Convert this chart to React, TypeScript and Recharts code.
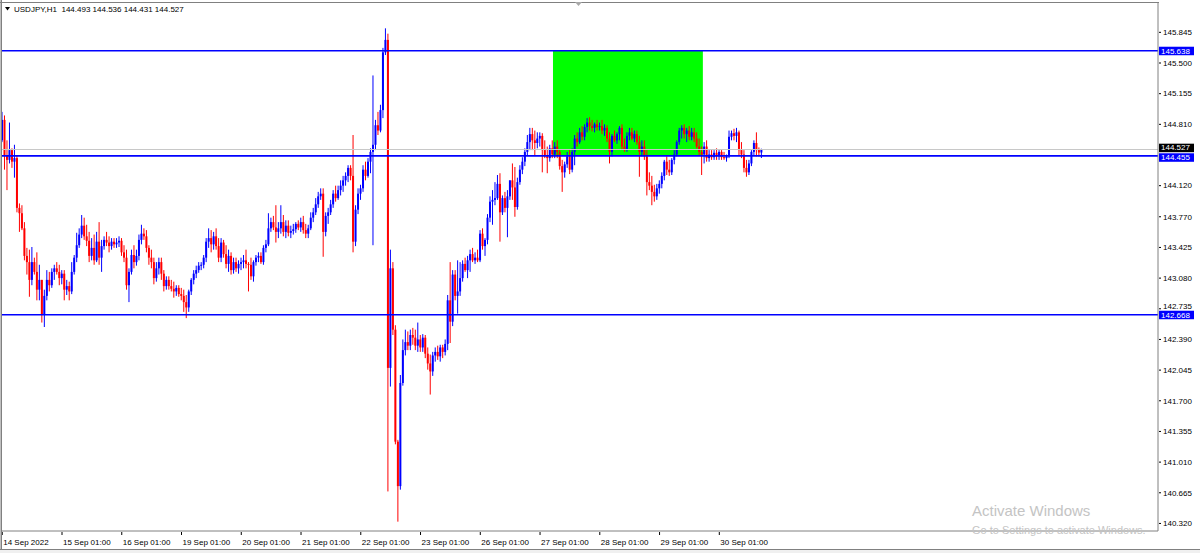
import React from 'react';
import { ComposedChart, Bar, XAxis, YAxis, ReferenceLine, ReferenceArea } from 'recharts';

const SYMBOL = 'USDJPY,H1';
const FIRST_OPEN = 144.63;

// Hourly closes, 14 Sep 2022 .. 30 Sep 2022 (24 bars per line)
const CLOSE: number[] = [
  144.86, 144.46, 144.41, 144.52, 144.39, 144.43, 143.87, 143.81, 143.64, 143.33, 143.26, 143.06, 143.26, 143.15, 142.95, 143.06, 142.67, 142.88, 143.06, 143.00, 143.15, 143.19, 143.15, 143.08,
  143.13, 142.95, 142.99, 142.93, 143.15, 143.31, 143.45, 143.57, 143.67, 143.55, 143.50, 143.33, 143.42, 143.28, 143.49, 143.31, 143.44, 143.51, 143.48, 143.44, 143.49, 143.46, 143.48, 143.50,
  143.37, 143.31, 143.00, 143.15, 143.34, 143.26, 143.33, 143.51, 143.58, 143.55, 143.42, 143.31, 143.26, 143.08, 143.19, 143.26, 143.13, 142.99, 143.06, 142.99, 142.96, 142.93, 142.97, 142.90,
  142.88, 142.81, 142.75, 142.93, 143.06, 143.13, 143.17, 143.22, 143.23, 143.31, 143.49, 143.53, 143.46, 143.55, 143.44, 143.31, 143.48, 143.35, 143.24, 143.33, 143.17, 143.26, 143.19, 143.24,
  143.26, 143.28, 143.24, 143.23, 143.10, 143.26, 143.31, 143.33, 143.26, 143.42, 143.46, 143.64, 143.71, 143.65, 143.60, 143.64, 143.71, 143.60, 143.67, 143.59, 143.61, 143.63, 143.69, 143.65,
  143.71, 143.62, 143.58, 143.64, 143.76, 143.82, 143.91, 144.00, 144.03, 143.60, 143.78, 143.82, 143.91, 144.03, 143.98, 144.07, 144.12, 144.18, 144.23, 144.32, 144.23, 143.49, 143.85, 144.03,
  144.09, 144.30, 144.23, 144.39, 144.50, 144.58, 144.80, 144.74, 144.97, 145.62, 145.76, 142.07, 143.19, 142.50, 141.24, 140.74, 141.90, 142.27, 142.36, 142.32, 142.44, 142.41, 142.32, 142.39,
  142.30, 142.41, 142.23, 142.12, 142.03, 142.21, 142.25, 142.20, 142.30, 142.25, 142.34, 142.83, 142.59, 143.12, 142.88, 142.93, 143.08, 143.24, 143.17, 143.28, 143.35, 143.28, 143.31, 143.28,
  143.58, 143.44, 143.51, 143.76, 143.94, 143.96, 143.98, 144.14, 143.82, 143.98, 143.87, 144.00, 144.18, 144.10, 143.88, 144.16, 144.30, 144.39, 144.50, 144.61, 144.70, 144.63, 144.60, 144.65,
  144.68, 144.52, 144.45, 144.43, 144.54, 144.47, 144.56, 144.50, 144.34, 144.27, 144.36, 144.45, 144.30, 144.50, 144.65, 144.61, 144.72, 144.67, 144.78, 144.83, 144.79, 144.77, 144.81, 144.78,
  144.79, 144.74, 144.77, 144.65, 144.50, 144.68, 144.63, 144.70, 144.77, 144.56, 144.52, 144.68, 144.72, 144.65, 144.70, 144.61, 144.50, 144.56, 144.45, 144.16, 144.12, 144.05, 144.00, 144.09,
  144.14, 144.23, 144.39, 144.30, 144.27, 144.41, 144.47, 144.61, 144.74, 144.77, 144.70, 144.74, 144.67, 144.72, 144.65, 144.56, 144.50, 144.47, 144.56, 144.43, 144.47, 144.44, 144.49, 144.45,
  144.50, 144.44, 144.43, 144.45, 144.67, 144.71, 144.68, 144.72, 144.52, 144.47, 144.32, 144.27, 144.37, 144.50, 144.60, 144.52, 144.493, 144.527,
];

const HIGH: number[] = [
  144.95, 144.91, 144.63, 144.83, 144.54, 144.58, 144.46, 143.92, 143.90, 143.71, 143.42, 143.40, 143.43, 143.31, 143.37, 143.23, 143.06, 142.95, 143.17, 143.15, 143.19, 143.23, 143.26, 143.23,
  143.17, 143.17, 143.06, 143.04, 143.26, 143.34, 143.59, 143.64, 143.79, 143.76, 143.68, 143.60, 143.53, 143.57, 143.60, 143.71, 143.51, 143.55, 143.60, 143.55, 143.53, 143.53, 143.53, 143.55,
  143.53, 143.45, 143.40, 143.19, 143.40, 143.45, 143.40, 143.57, 143.68, 143.64, 143.62, 143.45, 143.40, 143.31, 143.26, 143.31, 143.31, 143.17, 143.10, 143.10, 143.06, 143.04, 143.00, 143.00,
  142.97, 142.95, 142.89, 142.95, 143.08, 143.17, 143.22, 143.26, 143.26, 143.34, 143.53, 143.64, 143.62, 143.60, 143.64, 143.53, 143.53, 143.51, 143.45, 143.40, 143.37, 143.31, 143.31, 143.28,
  143.31, 143.34, 143.40, 143.26, 143.31, 143.28, 143.34, 143.37, 143.37, 143.45, 143.51, 143.81, 143.76, 143.78, 143.90, 143.71, 143.90, 143.79, 143.73, 143.73, 143.67, 143.69, 143.71, 143.73,
  143.76, 143.78, 143.69, 143.68, 143.82, 143.87, 143.98, 144.05, 144.09, 144.09, 143.82, 143.87, 143.96, 144.07, 144.12, 144.12, 144.18, 144.23, 144.27, 144.35, 144.35, 144.69, 143.90, 144.09,
  144.13, 144.35, 144.39, 144.43, 144.54, 145.36, 144.86, 144.95, 145.03, 145.67, 145.89, 145.83, 143.40, 143.26, 142.55, 141.26, 141.99, 142.39, 142.50, 142.48, 142.50, 142.52, 142.50, 142.58,
  142.44, 142.45, 142.44, 142.30, 142.22, 142.25, 142.30, 142.32, 142.33, 142.33, 142.39, 142.89, 143.26, 143.17, 143.17, 143.28, 143.26, 143.28, 143.31, 143.33, 143.40, 143.42, 143.37, 143.40,
  143.62, 143.64, 143.53, 143.80, 144.00, 144.07, 144.16, 144.24, 144.26, 144.01, 144.05, 144.07, 144.18, 144.37, 144.33, 144.21, 144.35, 144.44, 144.54, 144.69, 144.77, 144.77, 144.74, 144.72,
  144.72, 144.71, 144.63, 144.56, 144.58, 144.63, 144.61, 144.63, 144.52, 144.41, 144.39, 144.50, 144.52, 144.54, 144.69, 144.72, 144.77, 144.79, 144.81, 144.88, 144.89, 144.86, 144.83, 144.86,
  144.83, 144.86, 144.81, 144.80, 144.72, 144.70, 144.74, 144.72, 144.79, 144.81, 144.65, 144.72, 144.77, 144.77, 144.74, 144.74, 144.68, 144.63, 144.63, 144.52, 144.27, 144.23, 144.13, 144.14,
  144.18, 144.27, 144.41, 144.45, 144.41, 144.43, 144.52, 144.63, 144.77, 144.80, 144.81, 144.77, 144.79, 144.77, 144.77, 144.72, 144.65, 144.56, 144.61, 144.63, 144.52, 144.52, 144.52, 144.54,
  144.52, 144.52, 144.50, 144.47, 144.74, 144.74, 144.76, 144.77, 144.74, 144.61, 144.52, 144.41, 144.41, 144.52, 144.63, 144.72, 144.55, 144.536,
];

const LOW: number[] = [
  144.61, 144.30, 144.07, 144.37, 144.32, 144.21, 143.82, 143.60, 143.62, 143.28, 143.12, 142.87, 143.00, 143.12, 142.83, 142.83, 142.58, 142.53, 142.83, 142.93, 142.97, 143.06, 143.12, 143.00,
  143.01, 142.83, 142.89, 142.83, 142.90, 143.12, 143.26, 143.42, 143.53, 143.51, 143.44, 143.26, 143.28, 143.23, 143.26, 143.23, 143.15, 143.40, 143.44, 143.37, 143.40, 143.42, 143.42, 143.43,
  143.33, 143.26, 142.95, 142.81, 143.12, 143.19, 143.22, 143.28, 143.46, 143.51, 143.37, 143.23, 143.19, 143.01, 143.04, 143.12, 143.06, 142.93, 142.95, 142.95, 142.93, 142.86, 142.88, 142.87,
  142.83, 142.70, 142.63, 142.70, 142.89, 143.01, 143.08, 143.14, 143.17, 143.19, 143.26, 143.42, 143.37, 143.40, 143.40, 143.26, 143.26, 143.31, 143.19, 143.15, 143.12, 143.13, 143.15, 143.13,
  143.17, 143.19, 143.19, 142.93, 143.06, 143.04, 143.22, 143.26, 143.24, 143.23, 143.37, 143.44, 143.60, 143.62, 143.48, 143.53, 143.58, 143.55, 143.53, 143.55, 143.53, 143.57, 143.59, 143.62,
  143.60, 143.58, 143.53, 143.53, 143.62, 143.71, 143.79, 143.87, 143.96, 143.32, 143.55, 143.69, 143.79, 143.87, 143.94, 143.96, 144.01, 144.05, 144.12, 144.16, 144.18, 143.37, 143.44, 143.80,
  143.96, 144.05, 144.18, 144.21, 144.26, 143.45, 144.52, 144.69, 144.72, 144.88, 145.59, 140.68, 141.86, 142.44, 141.21, 140.34, 140.70, 141.87, 142.21, 142.27, 142.27, 142.33, 142.27, 142.25,
  142.25, 142.25, 142.18, 142.05, 141.77, 141.98, 142.14, 142.16, 142.14, 142.18, 142.21, 142.27, 142.35, 142.54, 142.83, 142.68, 142.88, 143.04, 143.15, 143.08, 143.15, 143.26, 143.24, 143.26,
  143.26, 143.40, 143.33, 143.46, 143.71, 143.68, 143.90, 143.96, 143.49, 143.79, 143.82, 143.54, 143.96, 143.96, 143.77, 143.85, 144.13, 144.25, 144.34, 144.46, 144.52, 144.52, 144.46, 144.54,
  144.56, 144.27, 144.43, 144.26, 144.39, 144.43, 144.43, 144.43, 144.30, 144.05, 144.21, 144.32, 144.25, 144.27, 144.35, 144.56, 144.59, 144.63, 144.63, 144.72, 144.74, 144.73, 144.72, 144.74,
  144.74, 144.70, 144.68, 144.61, 144.37, 144.45, 144.61, 144.59, 144.63, 144.52, 144.50, 144.50, 144.63, 144.63, 144.61, 144.58, 144.22, 144.45, 144.41, 144.01, 144.07, 143.90, 143.94, 143.96,
  144.03, 144.09, 144.18, 144.24, 144.23, 144.24, 144.36, 144.45, 144.58, 144.65, 144.65, 144.61, 144.63, 144.63, 144.61, 144.54, 144.46, 144.24, 144.37, 144.39, 144.39, 144.41, 144.41, 144.41,
  144.41, 144.41, 144.41, 144.39, 144.43, 144.63, 144.63, 144.61, 144.46, 144.43, 144.27, 144.22, 144.24, 144.34, 144.46, 144.45, 144.45, 144.431,
];

const DAY_TICKS = [0, 24, 48, 72, 96, 120, 144, 168, 192, 216, 240, 264, 288];
const DAY_LABELS = [
  '14 Sep 2022', '15 Sep 01:00', '16 Sep 01:00', '19 Sep 01:00', '20 Sep 01:00', '21 Sep 01:00', '22 Sep 01:00',
  '23 Sep 01:00', '26 Sep 01:00', '27 Sep 01:00', '28 Sep 01:00', '29 Sep 01:00', '30 Sep 01:00',
];
const PRICE_TICKS = [145.845, 145.5, 145.155, 144.81, 144.12, 143.77, 143.425, 143.08, 142.735, 142.39, 142.045, 141.7, 141.355, 141.01, 140.665, 140.32];
const LEVELS = [145.638, 144.455, 142.668];
const BID = 144.527;
const ZONE_START = 221.2;
const ZONE_END = 281.4;
const ZONE_TOP = 145.638;
const ZONE_BOTTOM = 144.455;
const X_DOMAIN: [number, number] = [-0.1, 464.2];
const Y_DOMAIN: [number, number] = [140.235, 146.175];

const OPEN = CLOSE.map((_, i) => (i === 0 ? FIRST_OPEN : CLOSE[i - 1]));
const data = CLOSE.map((c, i) => ({
  i,
  open: OPEN[i],
  high: HIGH[i],
  low: LOW[i],
  close: c,
  range: [LOW[i], HIGH[i]],
}));

const FONT = '"Liberation Sans", Arial, sans-serif';
const BULL = '#0000ff';
const BEAR = '#ff0000';

// small vertical nudges so that stacked price labels do not collide
const LABEL_SHIFT: Record<string, number> = { '144.527': -1.8, '144.455': 1.4, '142.735': -2.5 };

const Candle = (props: any) => {
  const { x, y, width, height, payload } = props;
  if (payload == null || y == null || height == null) return null;
  const { open, close, high, low } = payload;
  const span = high - low || 0.001;
  const toY = (p: number) => y + ((high - p) / span) * height;
  const cx = x + width / 2;
  const color = close >= open ? BULL : BEAR;
  const top = toY(Math.max(open, close));
  const bot = toY(Math.min(open, close));
  return (
    <g>
      <line x1={cx} x2={cx} y1={y} y2={y + height} stroke={color} strokeWidth={1} />
      <rect x={cx - 1} y={top} width={2} height={Math.max(bot - top, 1)} fill={color} />
    </g>
  );
};

const PriceTick = (props: any) => {
  const { x, y, payload } = props;
  const v: number = payload.value;
  const key = v.toFixed(3);
  const ty = y + (LABEL_SHIFT[key] || 0);
  const isLevel = LEVELS.includes(v);
  const isBid = v === BID;
  if (isLevel || isBid) {
    return (
      <g>
        <rect x={x - 4} y={ty - 4} width={35} height={8.5} fill={isBid ? '#000000' : '#0000ff'} />
        <text x={x - 2} y={ty} dy="0.35em" fontSize={8} fontFamily={FONT} fill="#ffffff">
          {key}
        </text>
      </g>
    );
  }
  return (
    <g>
      <line x1={x - 4} x2={x - 2} y1={y} y2={y} stroke="#000" strokeWidth={1} />
      <text x={x} y={ty} dy="0.35em" fontSize={8} fontFamily={FONT} fill="#000">
        {key}
      </text>
    </g>
  );
};

const DateTick = (props: any) => {
  const { x, y, payload } = props;
  const idx = DAY_TICKS.indexOf(payload.value);
  return (
    <g>
      <line x1={x} x2={x} y1={y + 1} y2={y + 4} stroke="#000" strokeWidth={1} />
      <text x={x + 1} y={y + 13.5} fontSize={8} fontFamily={FONT} fill="#000">
        {DAY_LABELS[idx]}
      </text>
    </g>
  );
};

export default function App() {
  const last = data[data.length - 1];
  const header = `${SYMBOL}  ${last.open.toFixed(3)} ${last.high.toFixed(3)} ${last.low.toFixed(3)} ${last.close.toFixed(3)}`;
  return (
    <div style={{ position: 'absolute', left: 0, top: 0, width: 1200, height: 553, background: '#ffffff', overflow: 'hidden' }}>
      <ComposedChart width={1200} height={553} data={data} margin={{ top: 3, right: 0, bottom: 0, left: 2 }}>
        <XAxis
          type="number"
          dataKey="i"
          domain={X_DOMAIN}
          allowDataOverflow
          ticks={DAY_TICKS}
          interval={0}
          height={22}
          tickSize={0}
          tickMargin={0}
          axisLine={{ stroke: '#808080' }}
          tickLine={false}
          tick={DateTick}
        />
        <YAxis
          type="number"
          orientation="right"
          domain={Y_DOMAIN}
          allowDataOverflow
          ticks={[...PRICE_TICKS, BID, ...LEVELS]}
          interval={0}
          width={42}
          tickSize={0}
          tickMargin={5}
          axisLine={{ stroke: '#808080' }}
          tickLine={false}
          tick={PriceTick}
        />
        <ReferenceArea
          x1={ZONE_START}
          x2={ZONE_END}
          y1={ZONE_BOTTOM}
          y2={ZONE_TOP}
          fill="#00ff00"
          fillOpacity={1}
          stroke="none"
        />
        <ReferenceLine y={BID} stroke="#c8c8c8" strokeWidth={1} />
        <Bar dataKey="range" barSize={2} shape={Candle} isAnimationActive={false} />
        {LEVELS.map((lv) => (
          <ReferenceLine key={lv} y={lv} stroke="#0000ff" strokeWidth={1.6} />
        ))}
      </ComposedChart>

      {/* frame */}
      <div style={{ position: 'absolute', left: 0, top: 0, width: 1, height: 549, background: '#c0c0c0' }} />
      <div style={{ position: 'absolute', left: 1, top: 0, width: 1, height: 549, background: '#808080' }} />
      <div style={{ position: 'absolute', left: 0, top: 2, width: 1159, height: 1, background: '#808080' }} />
      <div style={{ position: 'absolute', left: 0, top: 549, width: 1200, height: 1, background: '#808080' }} />
      <div style={{ position: 'absolute', left: 0, top: 550, width: 1200, height: 3, background: '#f0f0f0' }} />

      {/* header */}
      <svg style={{ position: 'absolute', left: 0, top: 0 }} width={1200} height={20}>
        <polygon points="5,7 10,7 7.5,10.5" fill="#000" />
        <polygon points="575,2 582,2 578.5,6" fill="#a8a8a8" />
        <text x={14} y={12} fontSize={8} fontFamily={FONT} fill="#000" style={{ whiteSpace: 'pre' }}>
          {header}
        </text>
      </svg>

      {/* watermark */}
      <div style={{ position: 'absolute', left: 972, top: 502, fontFamily: FONT, fontSize: 15, color: '#c4c4c4', lineHeight: '18px', whiteSpace: 'nowrap' }}>
        Activate Windows
      </div>
      <div style={{ position: 'absolute', left: 972, top: 523, fontFamily: FONT, fontSize: 11, color: '#c4c4c4', lineHeight: '14px', whiteSpace: 'nowrap' }}>
        Go to Settings to activate Windows.
      </div>
    </div>
  );
}
